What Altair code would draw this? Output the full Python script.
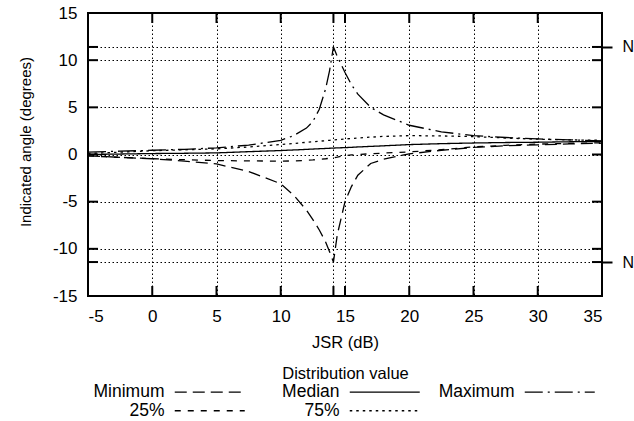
import altair as alt
import pandas as pd

# ---- data ----
jsr = [-5, -2.5, 0, 2.5, 5, 7.5, 10, 11, 12, 12.5, 13, 13.5, 13.8, 14.1, 14.4,
       15, 15.5, 16, 17, 18, 20, 22.5, 25, 27.5, 30, 32.5, 35]
minimum = [-0.15, -0.3, -0.45, -0.7, -1.0, -1.8, -3.1, -4.3, -5.9, -6.9, -8.0, -9.3, -10.3, -11.4, -8.5,
           -5.0, -3.4, -2.2, -0.95, -0.5, 0.07, 0.45, 0.75, 0.92, 1.03, 1.12, 1.2]
p25 = [-0.15, -0.3, -0.45, -0.55, -0.64, -0.68, -0.7, -0.68, -0.62, -0.58, -0.5, -0.45, -0.4, -0.35, -0.28,
       -0.12, -0.05, 0.0, 0.08, 0.15, 0.27, 0.52, 0.8, 0.97, 1.1, 1.18, 1.24]
median = [0.0, 0.05, 0.1, 0.13, 0.17, 0.3, 0.42, 0.48, 0.54, 0.58, 0.61, 0.64, 0.66, 0.68, 0.7,
          0.73, 0.76, 0.8, 0.86, 0.92, 1.05, 1.15, 1.22, 1.27, 1.3, 1.35, 1.38]
p75 = [0.1, 0.25, 0.4, 0.5, 0.6, 0.8, 1.06, 1.17, 1.29, 1.35, 1.41, 1.47, 1.5, 1.54, 1.57,
       1.65, 1.7, 1.75, 1.84, 1.92, 2.0, 1.97, 1.9, 1.75, 1.62, 1.55, 1.5]
maximum = [0.25, 0.35, 0.45, 0.55, 0.7, 1.0, 1.5, 2.0, 2.8, 3.5, 4.8, 7.0, 8.9, 11.4, 10.4,
           8.7, 7.4, 6.4, 5.0, 4.2, 3.1, 2.4, 2.0, 1.8, 1.65, 1.55, 1.45]

series_names = ["Minimum", "Median", "Maximum", "25%", "75%"]
series_lists = [minimum, median, maximum, p25, p75]

x_ticks = [-5, 0, 5, 10, 14.1, 15, 20, 25, 30, 35]
y_ticks = [-15, -11.4, -10, -5, 0, 5, 10, 11.4, 15]
n_marks = [-11.4, 11.4]

rows = []
for name, vals in zip(series_names, series_lists):
    for xv, yv in zip(jsr, vals):
        rows.append({"jsr": xv, "angle": yv, "series": name})
df = pd.DataFrame(rows)
xt = pd.DataFrame({"v": x_ticks})
yt = pd.DataFrame({"v": y_ticks})

# ---- styling ----
W, H = 514, 283
FONT = "Liberation Sans"
TL = 10
dashes = [[12, 6], [1, 0], [18, 5, 2, 5], [6, 7], [2.5, 4]]

xscale = alt.Scale(domain=[-5, 35], nice=False, zero=False)
yscale = alt.Scale(domain=[-15, 15], nice=False, zero=False)
label_expr = "abs(datum.value % 5) < 0.001 ? ('' + datum.value) : ''"

lines = alt.Chart(df).mark_line(color="black", strokeWidth=1.3, clip=True).encode(
    x=alt.X("jsr:Q", scale=xscale,
            axis=alt.Axis(values=x_ticks, labelExpr=label_expr,
                          title=["JSR (dB)", "Distribution value"], titleLineHeight=31.5,
                          labelPadding=12, titlePadding=10, grid=True, labelFontSize=17,
                          titleFontSize=16.5)),
    y=alt.Y("angle:Q", scale=yscale,
            axis=alt.Axis(values=y_ticks, labelExpr=label_expr, title="Indicated angle (degrees)",
                          labelPadding=11, grid=True, titleX=-63, titleY=128.5,
                          titleBaseline="middle", titleAlign="center", labelFontSize=17,
                          titleFontSize=15)),
    strokeDash=alt.StrokeDash(
        "series:N",
        scale=alt.Scale(domain=series_names, range=dashes),
        legend=alt.Legend(
            title=None, orient="none", legendX=113, legendY=370,
            columns=3, direction="horizontal", gridAlign="all",
            symbolType="M-7,0H7", symbolSize=100, symbolStrokeWidth=1.3,
            symbolStrokeColor="black",
            labelAlign="right", labelOffset={"expr": "-54"}, labelFont=FONT, labelFontSize=17.5,
            labelColor="black", columnPadding=15, rowPadding=0,
        ),
    ),
    order=alt.Order("jsr:Q"),
)

bottom_ticks = alt.Chart(xt).mark_rule(color="black", strokeWidth=2).encode(
    x=alt.X("v:Q", scale=xscale, axis=None), y=alt.value(H), y2=alt.value(H - TL))
top_ticks = alt.Chart(xt).mark_rule(color="black", strokeWidth=2).encode(
    x=alt.X("v:Q", scale=xscale, axis=None), y=alt.value(0), y2=alt.value(TL))
left_ticks = alt.Chart(yt).mark_rule(color="black", strokeWidth=2).encode(
    y=alt.Y("v:Q", scale=yscale, axis=None), x=alt.value(0), x2=alt.value(TL))
right_ticks = alt.Chart(yt).mark_rule(color="black", strokeWidth=2).encode(
    y=alt.Y("v:Q", scale=yscale,
            axis=alt.Axis(orient="right", values=n_marks, labelExpr="'N'", ticks=True,
                          tickSize=10, tickWidth=2, tickColor="black", domain=False,
                          grid=False, labelPadding=10, title=None, labelFontSize=16)),
    x=alt.value(W), x2=alt.value(W - TL))

chart = alt.layer(lines, bottom_ticks, top_ticks, left_ticks, right_ticks).resolve_axis(
    x="independent", y="independent"
).properties(
    width=W, height=H,
    padding={"left": 88, "top": 13, "right": 32, "bottom": 125},
    autosize=alt.AutoSizeParams(type="none"),
).configure_view(
    stroke="black", strokeWidth=2
).configure_axis(
    labelFont=FONT, titleFont=FONT,
    titleFontWeight="normal", labelColor="black", titleColor="black",
    gridColor="black", gridDash=[1.5, 2.5], gridWidth=1, gridOpacity=1,
    domain=False, ticks=False,
)

chart.save("out.html", embed_options={"renderer": "svg", "actions": False})
